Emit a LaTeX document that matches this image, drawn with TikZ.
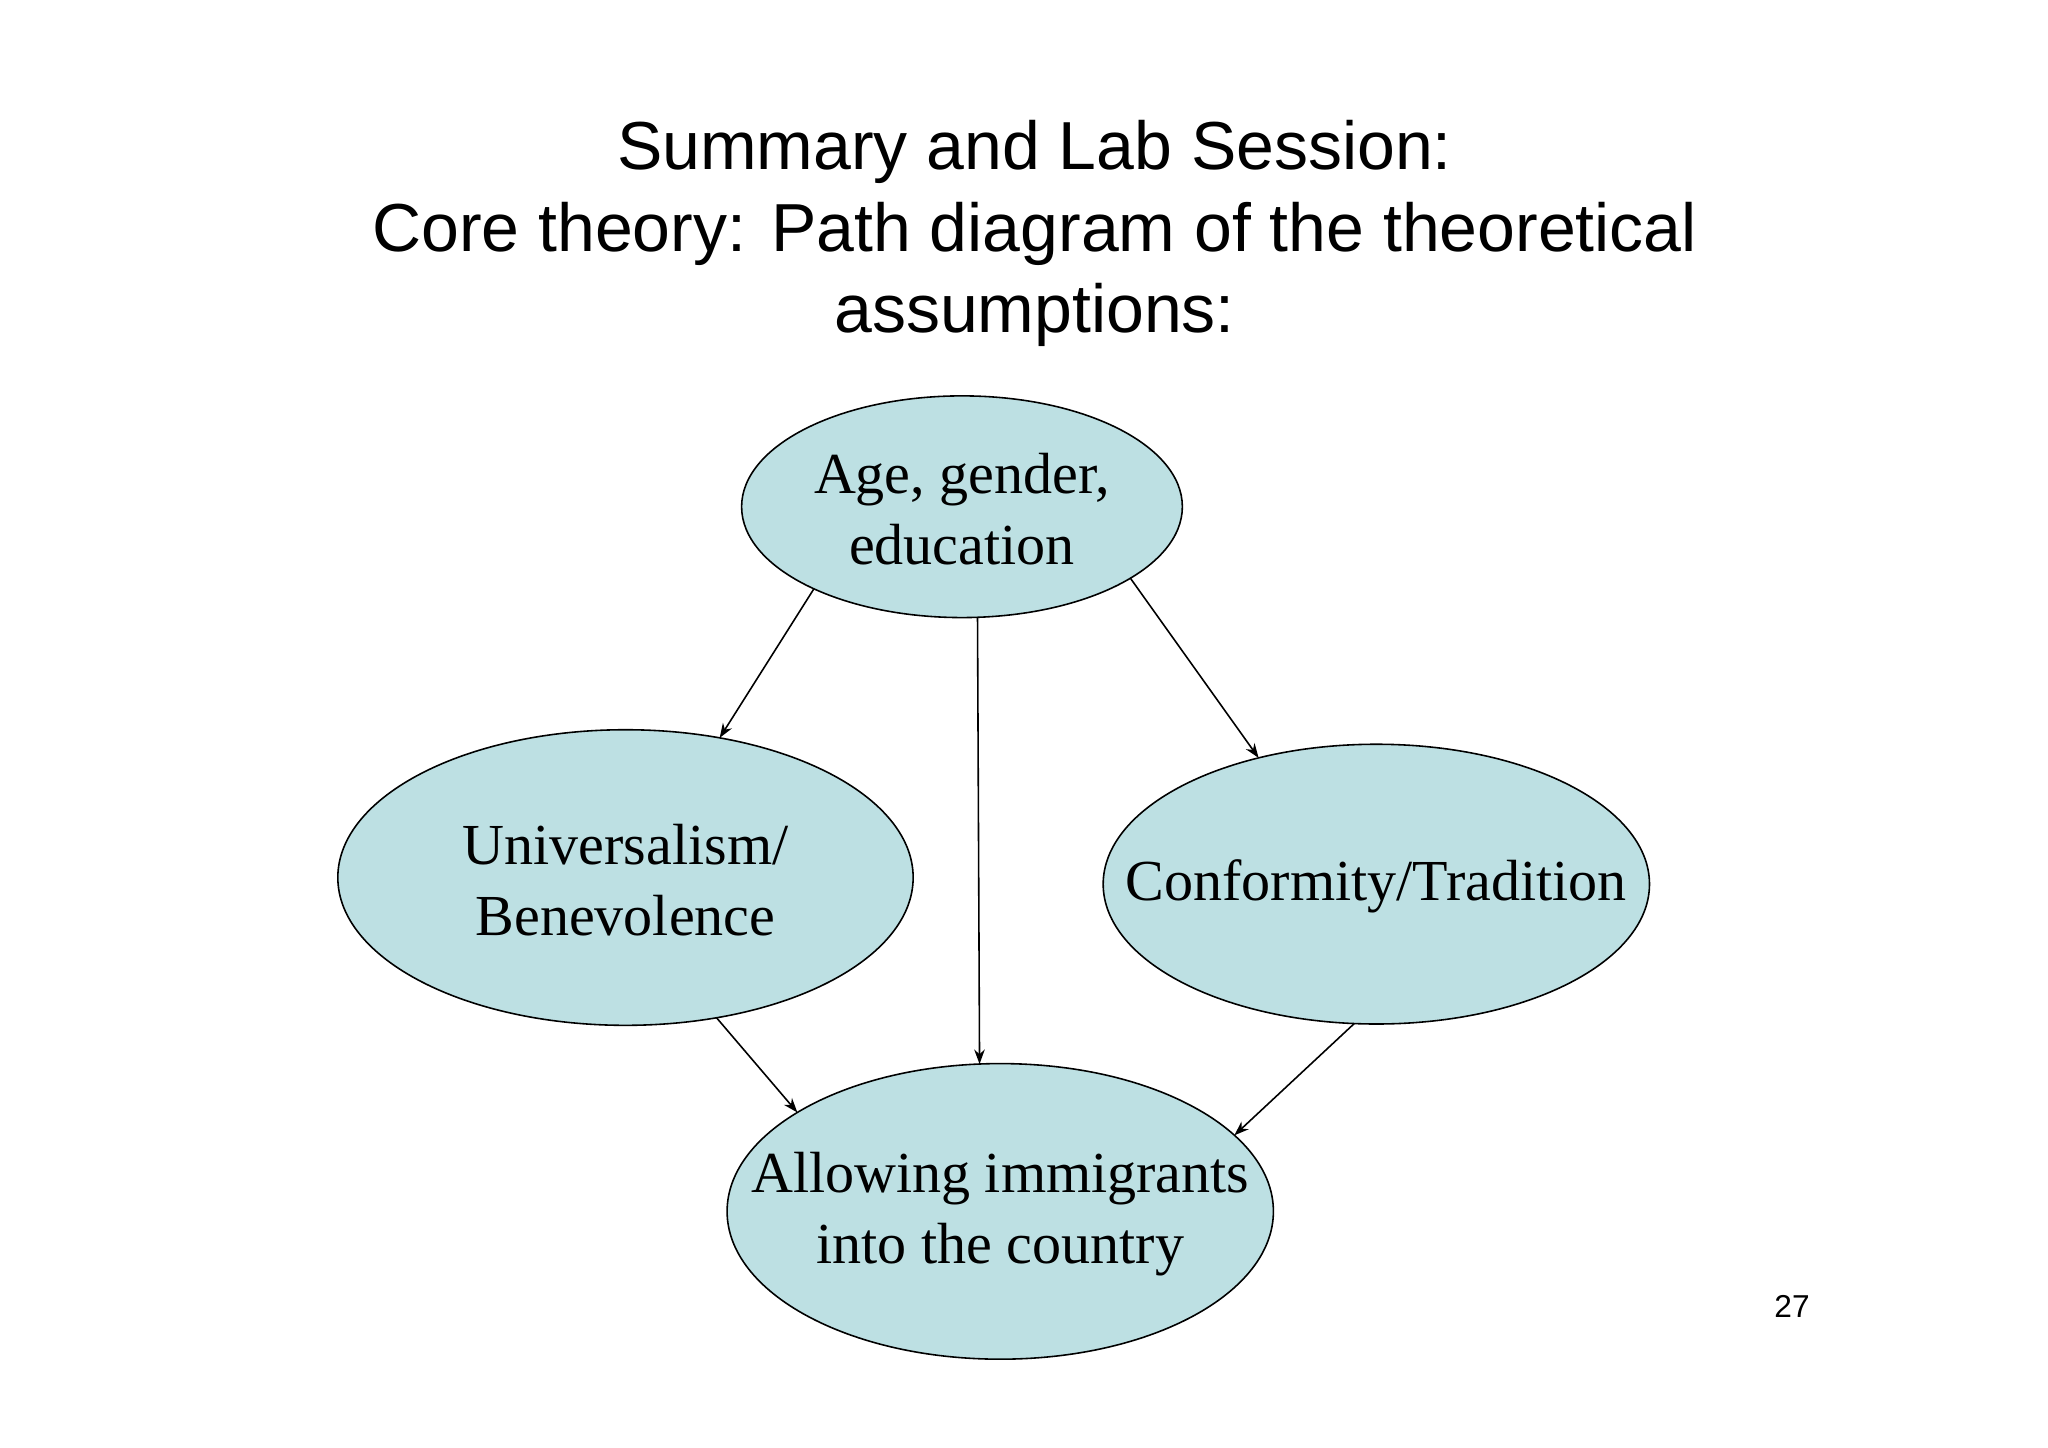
\documentclass[tikz,border=0pt]{standalone}
\usepackage{fontspec}
\setmainfont{Liberation Serif}
\newfontfamily\titlefont{Liberation Sans}
\usetikzlibrary{shapes.geometric,arrows.meta}
\begin{document}
\begin{tikzpicture}[x=1pt,y=-1pt,
  ell/.style={ellipse,draw=black,line width=1.2pt,fill={rgb,255:red,189;green,224;blue,227},inner sep=0pt,outer sep=0pt},
  txt/.style={align=center,font=\fontsize{44}{54}\selectfont},
  arr/.style={line width=1.2pt,-{Stealth[length=11pt,width=8pt]}}]
\useasboundingbox (0,0) rectangle (1552,1097);
\node[font=\titlefont\fontsize{51.5}{62}\selectfont,align=center] (title) at (784,177) {Summary and Lab Session:\\Core theory: Path diagram of the theoretical\\assumptions:};
\node[ell,minimum width=334pt,minimum height=168pt] (top) at (729,384) {};
\node[txt] (ttop) at (729,386) {Age, gender,\\education};
\node[ell,minimum width=436pt,minimum height=224pt] (left) at (474,665) {};
\node[txt] (tleft) at (474,667) {Universalism/\\Benevolence};
\node[ell,minimum width=414pt,minimum height=212pt] (right) at (1043,670) {};
\node[txt] (tright) at (1043,672) {Conformity/Tradition};
\node[ell,minimum width=414pt,minimum height=224pt] (bot) at (758,918) {};
\node[txt] (tbot) at (758,920) {Allowing immigrants\\into the country};
\node[font=\titlefont\fontsize{24}{28}\selectfont] (pg) at (1358,990) {27};
\draw[arr] (top.209.5) -- (left.56.4);
\draw[arr] (top.278) -- (bot.98.6);
\draw[arr] (top.337.3) -- (right.133.8);
\draw[arr] (left.303.8) -- (bot.154.1);
\draw[arr] (right.261) -- (bot.18.6);
\end{tikzpicture}
\end{document}
